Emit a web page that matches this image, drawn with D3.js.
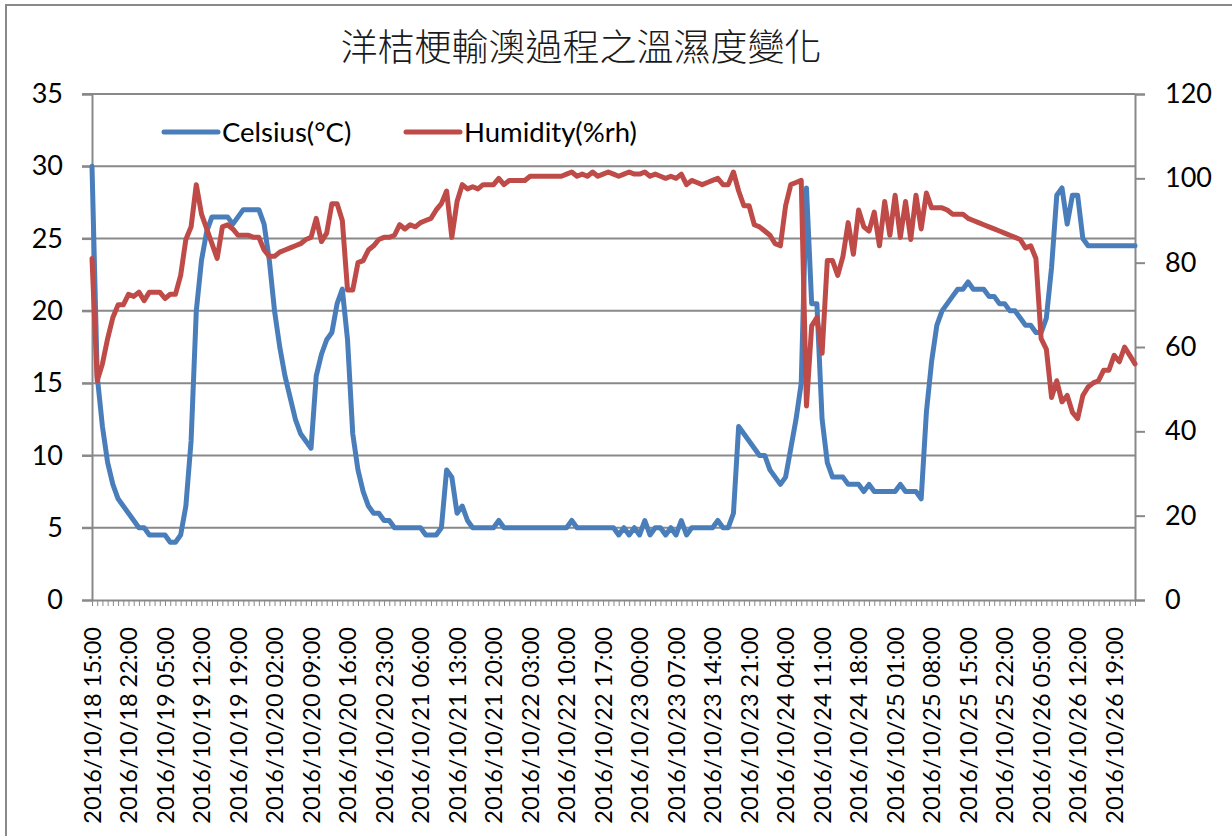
<!DOCTYPE html>
<html>
<head>
<meta charset="utf-8">
<script src="https://cdn.jsdelivr.net/npm/d3@7"></script>
<style>
  body { margin: 0; background: #fff; }
  svg { display: block; }
  text { font-family: Lato, "Open Sans", sans-serif; fill: #000; }
</style>
</head>
<body>
<svg id="chart" width="1232" height="836"></svg>
<script>
// hourly readings, 2016/10/18 15:00 .. 2016/10/26 23:00
var startTime = new Date(2016, 9, 18, 15);
var fmt = d3.timeFormat('%Y/%m/%d %H:%M');
var categories = d3.timeHours(startTime, d3.timeHour.offset(startTime, 201)).map(fmt);

var celsius = [
  30, 15.5, 12, 9.5, 8, 7, 6.5, 6, 5.5, 5,
  5, 4.5, 4.5, 4.5, 4.5, 4, 4, 4.5, 6.5, 11,
  20, 23.5, 25.5, 26.5, 26.5, 26.5, 26.5, 26, 26.5, 27,
  27, 27, 27, 26, 23.5, 20, 17.5, 15.5, 14, 12.5,
  11.5, 11, 10.5, 15.5, 17, 18, 18.5, 20.5, 21.5, 18,
  11.5, 9, 7.5, 6.5, 6, 6, 5.5, 5.5, 5, 5,
  5, 5, 5, 5, 4.5, 4.5, 4.5, 5, 9, 8.5,
  6, 6.5, 5.5, 5, 5, 5, 5, 5, 5.5, 5,
  5, 5, 5, 5, 5, 5, 5, 5, 5, 5,
  5, 5, 5.5, 5, 5, 5, 5, 5, 5, 5,
  5, 4.5, 5, 4.5, 5, 4.5, 5.5, 4.5, 5, 5,
  4.5, 5, 4.5, 5.5, 4.5, 5, 5, 5, 5, 5,
  5.5, 5, 5, 6, 12, 11.5, 11, 10.5, 10, 10,
  9, 8.5, 8, 8.5, 10.5, 12.5, 15, 28.5, 20.5, 20.5,
  12.5, 9.5, 8.5, 8.5, 8.5, 8, 8, 8, 7.5, 8,
  7.5, 7.5, 7.5, 7.5, 7.5, 8, 7.5, 7.5, 7.5, 7,
  13, 16.5, 19, 20, 20.5, 21, 21.5, 21.5, 22, 21.5,
  21.5, 21.5, 21, 21, 20.5, 20.5, 20, 20, 19.5, 19,
  19, 18.5, 18.5, 19.5, 23, 28, 28.5, 26, 28, 28,
  25, 24.5, 24.5, 24.5, 24.5, 24.5, 24.5, 24.5, 24.5, 24.5,
  24.5
];

var humidity = [
  81, 52, 56, 62, 67, 70, 70, 72.5, 72, 73,
  71, 73, 73, 73, 71.5, 72.5, 72.5, 77, 85.5, 88.5,
  98.5, 91.5, 88, 84.5, 81, 88.5, 89, 88, 86.5, 86.5,
  86.5, 86, 86, 83, 81.5, 81.5, 82.5, 83, 83.5, 84,
  84.5, 85.5, 86, 90.5, 85, 87, 94, 94, 90, 73.5,
  73.5, 80, 80.5, 83, 84, 85.5, 86, 86, 86.5, 89,
  88, 89, 88.5, 89.5, 90, 90.5, 92.5, 94, 97, 86,
  94.5, 98.5, 97.5, 98, 97.5, 98.5, 98.5, 98.5, 100, 98.5,
  99.5, 99.5, 99.5, 99.5, 100.5, 100.5, 100.5, 100.5, 100.5, 100.5,
  100.5, 101, 101.5, 100.5, 101, 100.5, 101.5, 100.5, 101, 101.5,
  101, 100.5, 101, 101.5, 101, 101, 101.5, 100.5, 101, 100.5,
  100, 100.5, 100, 101, 98.5, 99.5, 99, 98.5, 99, 99.5,
  100, 98.5, 98.5, 101.5, 97, 93.5, 93.5, 89, 88.5, 87.5,
  86.5, 84.5, 84, 93.5, 98.5, 99, 99.5, 46, 65, 67,
  58.5, 80.5, 80.5, 77, 81.5, 89.5, 82, 92.5, 88.5, 87.5,
  92, 84, 94.5, 86.5, 96, 86, 94.5, 85.5, 96, 88,
  96.5, 93, 93, 93, 92.5, 91.5, 91.5, 91.5, 90.5, 90,
  89.5, 89, 88.5, 88, 87.5, 87, 86.5, 86, 85.5, 83.5,
  84, 81, 62, 59.5, 48, 52, 47, 48.5, 44.5, 43,
  48.5, 50.5, 51.5, 52, 54.5, 54.5, 58, 56.5, 60, 58,
  56
];

var leftTicks = [0, 5, 10, 15, 20, 25, 30, 35];
var rightTicks = [0, 20, 40, 60, 80, 100, 120];
var seriesNames = ['Celsius(°C)', 'Humidity(%rh)'];
var titleText = '洋桔梗輸澳過程之溫濕度變化';

var blue = '#4a7ebb', red = '#be4b48', grey = '#898989';

var svg = d3.select('#chart');

// chart border (only top and left edges are in frame)
svg.append('rect')
  .attr('x', 6).attr('y', 5)
  .attr('width', 1300).attr('height', 900)
  .attr('fill', 'none')
  .attr('stroke', grey)
  .attr('stroke-width', 2);

var x = d3.scalePoint().domain(categories).range([92, 1135]);
var yL = d3.scaleLinear().domain([0, 35]).range([600, 94]);
var yR = d3.scaleLinear().domain([0, 120]).range([600, 94]);

// gridlines
svg.append('g')
  .selectAll('line')
  .data(leftTicks.slice(1))
  .join('line')
  .attr('x1', 82).attr('x2', 1135)
  .attr('y1', function(d) { return yL(d); })
  .attr('y2', function(d) { return yL(d); })
  .attr('stroke', grey)
  .attr('stroke-width', 2);

// left axis
var gL = svg.append('g')
  .attr('transform', 'translate(92,0)')
  .call(d3.axisLeft(yL).tickValues(leftTicks).tickSize(10).tickPadding(19));
gL.select('.domain').attr('stroke', grey).attr('stroke-width', 2);
gL.selectAll('.tick line').attr('stroke', grey).attr('stroke-width', 2);
gL.selectAll('.tick text').style('font-size', '27px').attr('fill', '#000');

// right axis
var gR = svg.append('g')
  .attr('transform', 'translate(1135,0)')
  .call(d3.axisRight(yR).tickValues(rightTicks).tickSize(10).tickPadding(20));
gR.select('.domain').attr('stroke', grey).attr('stroke-width', 2);
gR.selectAll('.tick line').attr('stroke', grey).attr('stroke-width', 2);
gR.selectAll('.tick text').style('font-size', '27px').attr('fill', '#000');

// bottom axis
var gB = svg.append('g')
  .attr('transform', 'translate(0,600)')
  .call(d3.axisBottom(x).tickSize(6).tickSizeOuter(0)
    .tickFormat(function(d, i) { return i % 7 === 0 ? d : ''; }));
gB.select('.domain').attr('stroke', grey).attr('stroke-width', 2);
gB.selectAll('.tick line').attr('stroke', grey).attr('stroke-width', 1);
gB.selectAll('.tick text')
  .style('font-size', '23.5px')
  .attr('fill', '#000')
  .attr('transform', 'rotate(-90)')
  .attr('text-anchor', 'end')
  .attr('x', -27)
  .attr('y', 0)
  .attr('dy', '0.35em');

// series
var lineL = d3.line()
  .x(function(d, i) { return x(categories[i]); })
  .y(function(d) { return yL(d); });
var lineR = d3.line()
  .x(function(d, i) { return x(categories[i]); })
  .y(function(d) { return yR(d); });

svg.append('path')
  .datum(celsius)
  .attr('d', lineL)
  .attr('fill', 'none')
  .attr('stroke', blue)
  .attr('stroke-width', 5)
  .attr('stroke-linejoin', 'round')
  .attr('stroke-linecap', 'round');

svg.append('path')
  .datum(humidity)
  .attr('d', lineR)
  .attr('fill', 'none')
  .attr('stroke', red)
  .attr('stroke-width', 5)
  .attr('stroke-linejoin', 'round')
  .attr('stroke-linecap', 'round');

// legend
var legend = svg.append('g').selectAll('g')
  .data(seriesNames)
  .join('g')
  .attr('transform', function(d, i) { return 'translate(' + [164, 406][i] + ',132)'; });
legend.append('line')
  .attr('x1', 0).attr('x2', 54)
  .attr('stroke', function(d, i) { return i ? red : blue; })
  .attr('stroke-width', 5)
  .attr('stroke-linecap', 'round');
legend.append('text')
  .attr('x', 58)
  .attr('dy', '0.35em')
  .style('font-size', '27.5px')
  .text(function(d) { return d; });

// title
svg.append('text')
  .attr('x', 581)
  .attr('y', 48)
  .attr('dy', '0.35em')
  .attr('text-anchor', 'middle')
  .style('font-family', '"Noto Sans CJK TC", "Noto Sans CJK SC", sans-serif')
  .style('font-weight', 300)
  .style('font-size', '37px')
  .style('fill', '#1a1a1a')
  .text(titleText);
</script>
</body>
</html>
